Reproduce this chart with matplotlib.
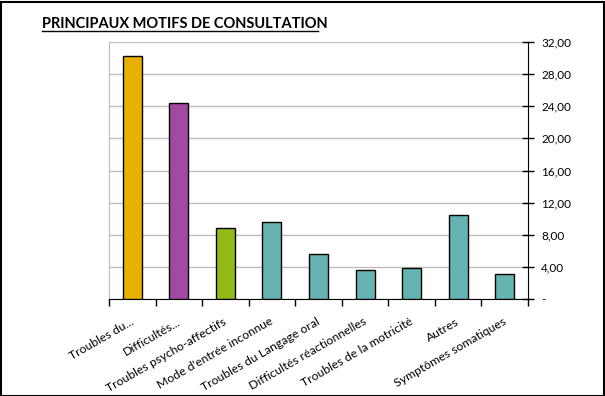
import matplotlib.pyplot as plt
from matplotlib.patches import Rectangle

plt.rcParams['font.family'] = ['Lato', 'DejaVu Sans']

# Data
motifs = ["Troubles du...", "Difficultés...", "Troubles psycho-affectifs",
          "Mode d'entrée inconnue", "Troubles du Langage oral",
          "Difficultés réactionnelles", "Troubles de la motricité",
          "Autres", "Symptômes somatiques"]
valeurs = [30.3, 24.4, 8.9, 9.55, 5.6, 3.6, 3.85, 10.45, 3.1]
couleurs = ['#E9B000', '#A24AA2', '#93B81A', '#66B3B3', '#66B3B3',
            '#66B3B3', '#66B3B3', '#66B3B3', '#66B3B3']
yticks = [0, 4, 8, 12, 16, 20, 24, 28, 32]

fig = plt.figure(figsize=(6.05, 3.96), dpi=100)
ax = fig.add_axes([109 / 605, 1 - 299 / 396, 419 / 605, 257 / 396])

x = range(len(motifs))
ax.bar(x, valeurs, width=0.41, color=couleurs, edgecolor='black',
       linewidth=1, zorder=3)

ax.set_xlim(-0.5, len(motifs) - 0.5)
ax.set_ylim(0, 32)

# y axis on the right
ax.yaxis.tick_right()
ax.set_yticks(yticks)
ax.set_yticklabels(['-' if v == 0 else f"{v:.2f}".replace('.', ',') for v in yticks],
                   fontsize=8.5)
ax.tick_params(axis='y', direction='inout', length=9, width=1, pad=5)
ax.grid(axis='y', color='#BEBEBE', linewidth=1, zorder=0)

# x ticks at category borders
ax.set_xticks([i - 0.5 for i in range(len(motifs) + 1)])
ax.set_xticklabels([])
ax.tick_params(axis='x', direction='out', length=5, width=1)
for i, lab in enumerate(motifs):
    ax.text(i - 0.05, -2.1, lab, rotation=30, ha='right', va='top',
            rotation_mode='anchor', fontsize=8.8, transform=ax.transData)

ax.spines['top'].set_visible(False)
ax.spines['left'].set_color('#BEBEBE')
ax.spines['bottom'].set_color('black')
ax.spines['right'].set_color('black')

fig.text(42 / 605, 1 - 24 / 396, "PRINCIPAUX MOTIFS DE CONSULTATION",
         fontsize=10.5, fontweight='bold', va='center', ha='left')
# underline under title
fig.add_artist(plt.Line2D([42 / 605, 318 / 605], [1 - 31 / 396, 1 - 31 / 396],
                          color='black', linewidth=1))

fig.add_artist(Rectangle((0.5 / 605, 0.5 / 396), 603 / 605, 394 / 396,
                         fill=False, edgecolor='black', linewidth=1.5,
                         transform=fig.transFigure))

fig.savefig('out.png', dpi=100)
